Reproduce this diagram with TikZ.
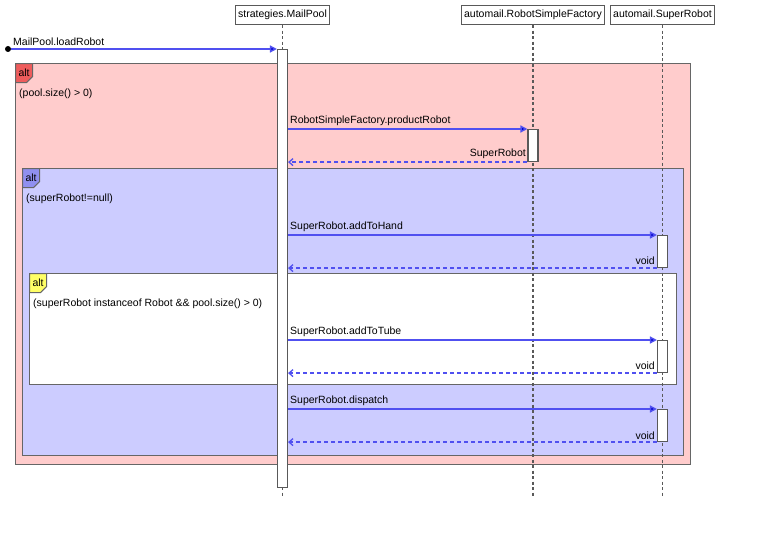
\documentclass[tikz,border=0pt]{standalone}
\usepackage{fontspec}
\setmainfont{Liberation Sans}
\usepackage{tikz}
\usetikzlibrary{arrows.meta}
\usetikzlibrary{positioning}
\usetikzlibrary{shapes.misc}
\usetikzlibrary{calc}
\definecolor{redfill}{HTML}{FFCCCC}
\definecolor{redtag}{HTML}{EE5C5C}
\definecolor{bluefill}{HTML}{CCCCFF}
\definecolor{bluetag}{HTML}{9090F0}
\definecolor{yellowtag}{HTML}{FFFF66}
\definecolor{msgline}{HTML}{5050F0}
\definecolor{msghead}{HTML}{0000C8}
\tikzstyle{head}=[draw=black!65,fill=white,line width=1.4pt,minimum height=19pt,inner xsep=2.5pt,inner ysep=0pt]
\tikzstyle{act}=[draw=black!65,fill=white,line width=1.1pt,minimum width=10pt,inner sep=0pt,anchor=north]
\tikzstyle{frame}=[draw=black!60,line width=1.1pt,anchor=north west,inner sep=0pt]
\tikzstyle{tag}=[draw=black!60,line width=1.1pt,chamfered rectangle,chamfered rectangle corners=south east,chamfered rectangle xsep=3pt,chamfered rectangle ysep=3pt,minimum width=17pt,minimum height=19pt,inner sep=0pt,anchor=north west]
\tikzstyle{life}=[draw=black!65,line width=1.2pt,dash pattern=on 3pt off 2.5pt]
\tikzstyle{call}=[draw=msgline,line width=1.4pt,-{Triangle[length=7pt,width=7pt,fill=msghead]}]
\tikzstyle{ret}=[draw=msgline,line width=1.3pt,dash pattern=on 4pt off 3pt,-{Straight Barb[length=4pt,width=7pt]}]
\tikzstyle{lbl}=[inner sep=1pt,font=\fontsize{10.5}{12}\selectfont]

\begin{document}
\begin{tikzpicture}[x=1pt,y=-1pt,font=\fontsize{10.5}{12}\selectfont]
\useasboundingbox (0,0) rectangle (770,551);
% combined fragments
\node [frame,fill=redfill,minimum width=675pt,minimum height=401pt] (f1) at (15,63) {};
\node [tag,fill=redtag] (t1) at (f1.north west) {alt};
\node [lbl,anchor=west] (c1) at (18,94) {(pool.size() > 0)};
\node [frame,fill=bluefill,minimum width=661pt,minimum height=287pt] (f2) at (22,168) {};
\node [tag,fill=bluetag] (t2) at (f2.north west) {alt};
\node [lbl,anchor=west] (c2) at (25,199) {(superRobot!=null)};
\node [frame,fill=white,minimum width=647pt,minimum height=111pt] (f3) at (29,273) {};
\node [tag,fill=yellowtag] (t3) at (f3.north west) {alt};
\node [lbl,anchor=west] (c3) at (32,304) {(superRobot instanceof Robot \&\& pool.size() > 0)};

% lifelines
\node [head] (pool) at (282.5,15) {strategies.MailPool};
\node [head] (fact) at (533,15) {automail.RobotSimpleFactory};
\node [head] (robot) at (662.5,15) {automail.SuperRobot};
\coordinate (poolend) at (282.5,496);
\coordinate (factend) at (533,496);
\coordinate (robotend) at (662.5,496);
\draw [life] (pool) -- (poolend);
\draw [life] (fact) -- (factend);
\draw [life] (robot) -- (robotend);

% activations
\node [act,minimum height=438pt] (pa) at (282.5,49) {};
\node [act,minimum height=32pt] (fa) at (533,129) {};
\node [act,minimum height=32pt] (ra1) at (662.5,235) {};
\node [act,minimum height=32pt] (ra2) at (662.5,340) {};
\node [act,minimum height=32pt] (ra3) at (662.5,409) {};

% messages
\node [circle,fill=black,inner sep=0pt,minimum size=6pt] (start) at (8,49) {};
\draw [call] (start) -- (pa.north west);
\node [lbl,anchor=south west] at (12,47) {MailPool.loadRobot};

\draw [call] (pa.east |- fa.north west) -- (fa.north west);
\node [lbl,anchor=south west] at (289,127) {RobotSimpleFactory.productRobot};
\draw [ret] (fa.south west) -- (pa.east |- fa.south west);
\node [lbl,anchor=south east] at (527,160) {SuperRobot};

\draw [call] (pa.east |- ra1.north west) -- (ra1.north west);
\node [lbl,anchor=south west] at (289,233) {SuperRobot.addToHand};
\draw [ret] (ra1.south west) -- (pa.east |- ra1.south west);
\node [lbl,anchor=south east] at (656,266) {void};

\draw [call] (pa.east |- ra2.north west) -- (ra2.north west);
\node [lbl,anchor=south west] at (289,338) {SuperRobot.addToTube};
\draw [ret] (ra2.south west) -- (pa.east |- ra2.south west);
\node [lbl,anchor=south east] at (656,371) {void};

\draw [call] (pa.east |- ra3.north west) -- (ra3.north west);
\node [lbl,anchor=south west] at (289,407) {SuperRobot.dispatch};
\draw [ret] (ra3.south west) -- (pa.east |- ra3.south west);
\node [lbl,anchor=south east] at (656,441) {void};

\end{tikzpicture}
\end{document}
